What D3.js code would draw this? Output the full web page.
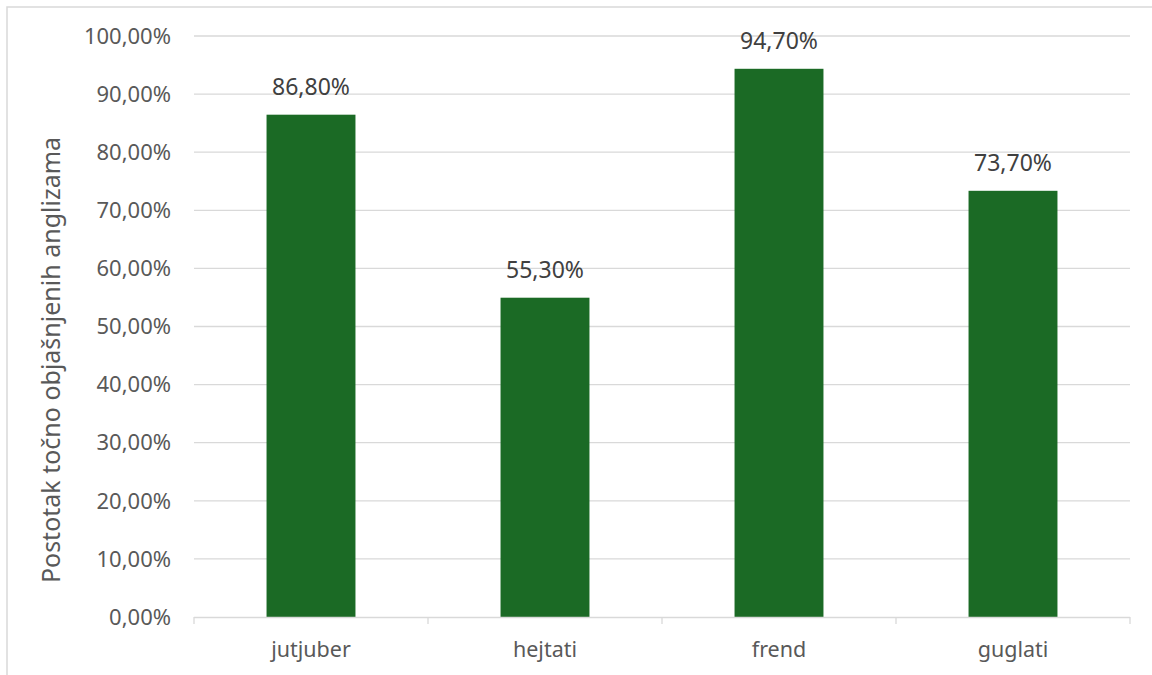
<!DOCTYPE html>
<html><head><meta charset="utf-8">
<script src="https://cdn.jsdelivr.net/npm/d3@7"></script>
<style>body{margin:0;background:#fff}svg{display:block}</style>
</head><body>
<script>
const categories = ["jutjuber", "hejtati", "frend", "guglati"];
const values = [86.8, 55.3, 94.7, 73.7];
const labels = ["86,80%", "55,30%", "94,70%", "73,70%"];
const yTicks = [0,10,20,30,40,50,60,70,80,90,100];
const yTitle = "Postotak točno objašnjenih anglizama";

const W = 1152, H = 675;
const m = {left:194, right:1130, top:36, bottom:617};
const FONT = "Noto Sans, sans-serif";
const svg = d3.select("body").append("svg").attr("width", W).attr("height", H);
svg.append("rect").attr("x",7).attr("y",7).attr("width",W+10).attr("height",H+10)
  .attr("fill","none").attr("stroke","#d9d9d9").attr("stroke-width",1.5);

const x = d3.scaleBand().domain(categories).range([m.left, m.right]).paddingInner(0.62).paddingOuter(0.31);
const y = d3.scaleLinear().domain([0,100]).range([m.bottom, m.top]);

const fmt = v => v.toFixed(2).replace(".", ",") + "%";
svg.append("g").selectAll("line").data(yTicks.filter(d=>d>0)).join("line")
  .attr("x1", m.left).attr("x2", m.right).attr("y1", d=>y(d)).attr("y2", d=>y(d))
  .attr("stroke","#d9d9d9").attr("stroke-width",1.3);
svg.append("g").selectAll("text").data(yTicks).join("text")
  .attr("x", 171).attr("y", d=>y(d)).attr("dy","0.35em").attr("text-anchor","end")
  .attr("font-family",FONT).attr("font-size",22).attr("fill","#595959")
  .text(fmt);

svg.append("g").selectAll("rect").data(values).join("rect")
  .attr("x",(d,i)=>x(categories[i])).attr("width",x.bandwidth())
  .attr("y",d=>y(d)+2).attr("height",d=>y(0)-y(d)-2).attr("fill","#1b6a25");

svg.append("g").selectAll("text").data(values).join("text")
  .attr("x",(d,i)=>x(categories[i])+x.bandwidth()/2).attr("y",d=>y(d)-18)
  .attr("text-anchor","middle").attr("font-family",FONT)
  .attr("font-size",23).attr("fill","#404040").text((d,i)=>labels[i]);

// x axis
const ax = svg.append("g");
ax.append("line").attr("x1",m.left).attr("x2",m.right).attr("y1",y(0)+0.5).attr("y2",y(0)+0.5)
  .attr("stroke","#d9d9d9").attr("stroke-width",1.3);
const step = (m.right-m.left)/categories.length;
ax.selectAll("line.t").data(d3.range(categories.length+1)).join("line").attr("class","t")
  .attr("x1",i=>m.left+i*step).attr("x2",i=>m.left+i*step).attr("y1",y(0)).attr("y2",y(0)+7)
  .attr("stroke","#d9d9d9").attr("stroke-width",1.3);
ax.selectAll("text").data(categories).join("text")
  .attr("x",d=>x(d)+x.bandwidth()/2).attr("y",657).attr("text-anchor","middle")
  .attr("font-family",FONT).attr("font-size",21.5).attr("fill","#595959").text(d=>d);

svg.append("text").attr("transform","translate(60,360) rotate(-90)").attr("text-anchor","middle")
  .attr("font-family",FONT).attr("font-size",25).attr("fill","#595959").text(yTitle);
</script>
</body></html>
